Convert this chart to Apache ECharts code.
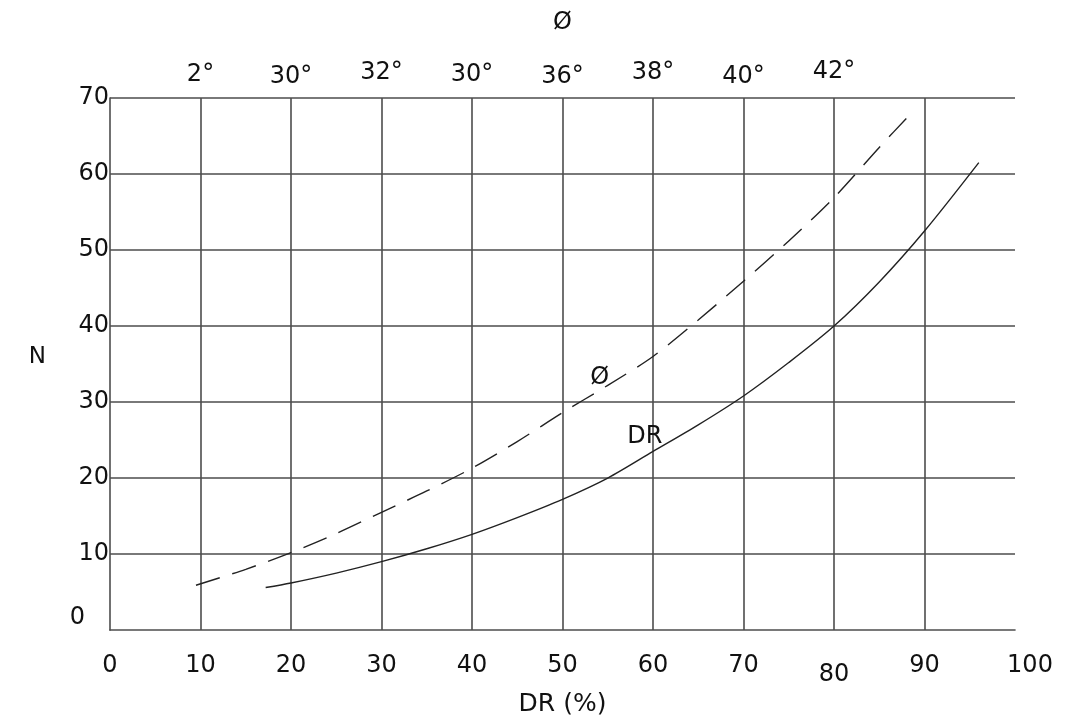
<!DOCTYPE html>
<html>
<head>
<meta charset="utf-8">
<script src="https://cdn.jsdelivr.net/npm/echarts@6/dist/echarts.min.js"></script>
<style>
html,body{margin:0;padding:0;background:#fff;}
#chart{width:1065px;height:722px;}
</style>
</head>
<body>
<div id="chart"></div>
<script>
// Data
var drPct = [17.2, 20, 25, 30, 35, 40, 45, 50, 55, 60, 65, 70, 75, 80, 85, 90, 96];
var nDR   = [5.6, 6.2, 7.5, 9.0, 10.7, 12.6, 14.8, 17.2, 20.0, 23.5, 27.0, 30.8, 35.2, 40.0, 45.8, 52.5, 61.5];
var phiPct = [9.5, 15, 20, 25, 30, 35, 40, 45, 50, 55, 60, 65, 70, 75, 80, 85, 88.7];
var nPhi   = [5.9, 8.0, 10.2, 12.7, 15.5, 18.3, 21.3, 24.8, 28.6, 32.2, 36.0, 40.8, 45.9, 51.2, 56.9, 63.5, 68.2];
var topTickValues = [10, 20, 30, 40, 50, 60, 70, 80];
var topTickLabels = ['2°', '30°', '32°', '30°', '36°', '38°', '40°', '42°'];
var curveLabels = [{name: 'Ø', x: 54.1, y: 33.2}, {name: 'DR', x: 59.1, y: 25.4}];

// Layout (small hand-lettered offsets of the original labels)
var topLabelLift = [2, 0, 4, 2, 0, 4, 0, 5];

function pairs(xs, ys) { return xs.map(function (x, i) { return [x, ys[i]]; }); }
var topMap = {};
topTickValues.forEach(function (v, i) { topMap[v] = i; });

var font = '"DejaVu Sans", "Liberation Sans", Arial, sans-serif';
var ink = '#111111';
var gridCol = '#4d4d4d';

var topRich = {};
topLabelLift.forEach(function (l, i) { topRich['t' + i] = {padding: [0, 0, l, 0], fontFamily: font, fontSize: 24, color: ink}; });

var chart = echarts.init(document.getElementById('chart'), null, {renderer: 'canvas'});
chart.setOption({
  backgroundColor: '#ffffff',
  animation: false,
  grid: {left: 110, right: 50, top: 98, bottom: 91, containLabel: false},
  xAxis: [{
    type: 'value', min: 0, max: 100, interval: 10, position: 'bottom',
    name: 'DR (%)', nameLocation: 'middle', nameGap: 60,
    nameTextStyle: {fontFamily: font, fontSize: 25, color: ink},
    axisLine: {show: true, lineStyle: {color: gridCol, width: 1.6}},
    axisTick: {show: false},
    axisLabel: {margin: 24, fontFamily: font, fontSize: 24, color: ink,
      formatter: function (v) {
        if (v === 80) return '{low|80}';
        if (v === 100) return '{right|100}';
        return String(v);
      },
      rich: {
        low: {padding: [9, 0, 0, 0], fontFamily: font, fontSize: 24, color: ink},
        right: {padding: [0, 0, 0, 30], fontFamily: font, fontSize: 24, color: ink}
      }},
    splitLine: {show: true, showMinLine: false, showMaxLine: false, lineStyle: {color: gridCol, width: 1.6}}
  }, {
    type: 'value', min: 0, max: 100, interval: 10, position: 'top',
    name: 'Ø', nameLocation: 'middle', nameGap: 63,
    nameTextStyle: {fontFamily: font, fontSize: 24, color: ink},
    axisLine: {show: false}, axisTick: {show: false}, splitLine: {show: false},
    axisLabel: {margin: 9, fontFamily: font, fontSize: 24, color: ink,
      formatter: function (v) {
        var i = topMap[v];
        return i === undefined ? '' : '{t' + i + '|' + topTickLabels[i] + '}';
      },
      rich: topRich}
  }],
  yAxis: {
    type: 'value', min: 0, max: 70, interval: 10,
    name: '{n|N}', nameLocation: 'middle', nameRotate: 0, nameGap: 64,
    nameTextStyle: {fontFamily: font, fontSize: 23, color: ink,
      rich: {n: {padding: [0, 0, 14, 0], fontFamily: font, fontSize: 23, color: ink}}},
    axisLine: {show: true, lineStyle: {color: gridCol, width: 1.6}},
    axisTick: {show: false},
    axisLabel: {margin: 1, fontFamily: font, fontSize: 24, color: ink,
      formatter: function (v) { return v === 0 ? '{z|0}' : String(v); },
      rich: {z: {padding: [0, 24, 24, 0], fontFamily: font, fontSize: 24, color: ink}}},
    splitLine: {show: true, showMinLine: false, lineStyle: {color: gridCol, width: 1.6}}
  },
  series: [{
    name: 'Ø', type: 'line', smooth: 0.3, symbol: 'none',
    data: pairs(phiPct, nPhi),
    lineStyle: {color: '#222', width: 1.4, type: [25, 13]}
  }, {
    name: 'DR', type: 'line', smooth: 0.3, symbol: 'none',
    data: pairs(drPct, nDR),
    lineStyle: {color: '#222', width: 1.4}
  }, {
    type: 'scatter', symbolSize: 0, silent: true,
    itemStyle: {opacity: 1},
    data: curveLabels.map(function (d) { return {name: d.name, value: [d.x, d.y]}; }),
    label: {show: true, position: 'inside', formatter: '{b}', fontFamily: font, fontSize: 24, color: ink, opacity: 1}
  }]
});
</script>
</body>
</html>
